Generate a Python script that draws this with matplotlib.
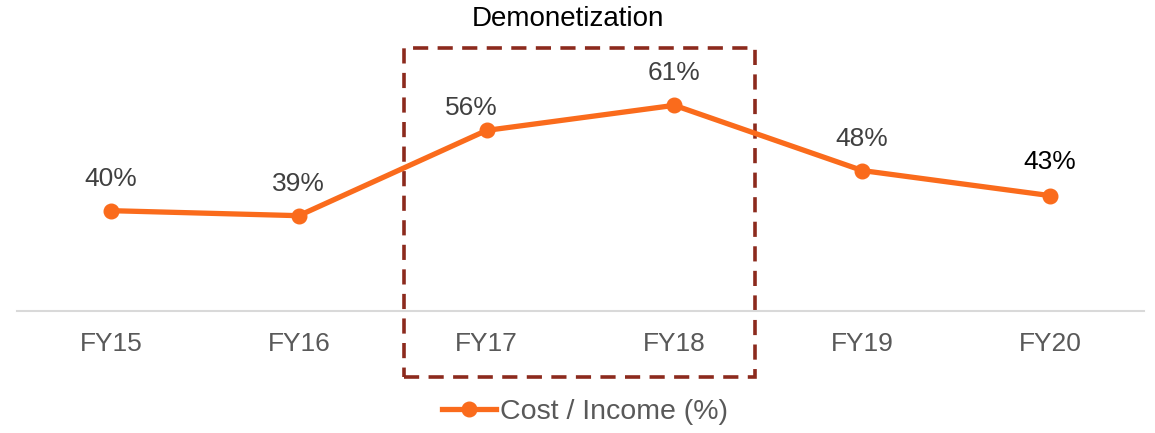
import matplotlib.pyplot as plt
from matplotlib.patches import Rectangle
from matplotlib.lines import Line2D
import matplotlib.transforms as mtransforms

plt.rcParams['font.family'] = ['Liberation Sans', 'DejaVu Sans']

# Cost to income ratio by fiscal year
years = ['FY15', 'FY16', 'FY17', 'FY18', 'FY19', 'FY20']
cost_income = [40, 39, 56, 61, 48, 43]
value_labels = ['40%', '39%', '56%', '61%', '48%', '43%']

orange = '#FA6B1C'
box_red = '#8C2A1D'

fig = plt.figure(figsize=(11.55, 4.33), dpi=100)
ax = fig.add_axes([17 / 1155, 122 / 433, 1127 / 1155, 301 / 433])

x = list(range(len(years)))
ax.plot(x, cost_income, color=orange, linewidth=3.8, marker='o', markersize=10.5,
        solid_capstyle='round', zorder=3)

# value labels above each point (FY17 nudged left so it clears the line)
offsets = [(0, 23), (0, 23), (-11, 16), (0, 23), (0, 23), (0, 24)]
for i, (v, lab) in enumerate(zip(cost_income, value_labels)):
    color = 'black' if i == len(years) - 1 else '#404040'
    ax.annotate(lab, (i, v), xytext=offsets[i], textcoords='offset points',
                ha='center', va='center', fontsize=19, color=color)

ax.set_xlim(-0.5, len(years) - 0.5)
ax.set_ylim(20, 80)
ax.set_xticks(x)
ax.set_xticklabels(years, fontsize=19, color='#595959')
ax.tick_params(axis='x', length=0, pad=15)
ax.set_yticks([])
for side in ['top', 'right', 'left']:
    ax.spines[side].set_visible(False)
ax.spines['bottom'].set_color('#D9D9D9')
ax.spines['bottom'].set_linewidth(1.5)

# dashed box marking the demonetization years
trans = mtransforms.blended_transform_factory(ax.transData, ax.transAxes)
x0, x1 = years.index('FY17') - 0.44, years.index('FY18') + 0.43
y0, y1 = -0.219, 0.874
box = Rectangle((x0, y0), x1 - x0, y1 - y0, transform=trans, fill=False,
                edgecolor=box_red, linewidth=2.6, linestyle=(0, (4.2, 2.6)),
                clip_on=False, zorder=2)
ax.add_patch(box)
ax.text((x0 + x1) / 2 - 0.06, 0.97, 'Demonetization', transform=trans,
        ha='center', va='center', fontsize=20, color='black')

handle = Line2D([], [], color=orange, linewidth=3.8, marker='o', markersize=10.5)
fig.legend([handle], ['Cost / Income (%)'], loc='center',
           bbox_to_anchor=(585 / 1155, 21 / 433), frameon=False,
           fontsize=20.5, handlelength=1.9, handletextpad=0.15,
           labelcolor='#595959')

fig.savefig('out.png', dpi=100)
